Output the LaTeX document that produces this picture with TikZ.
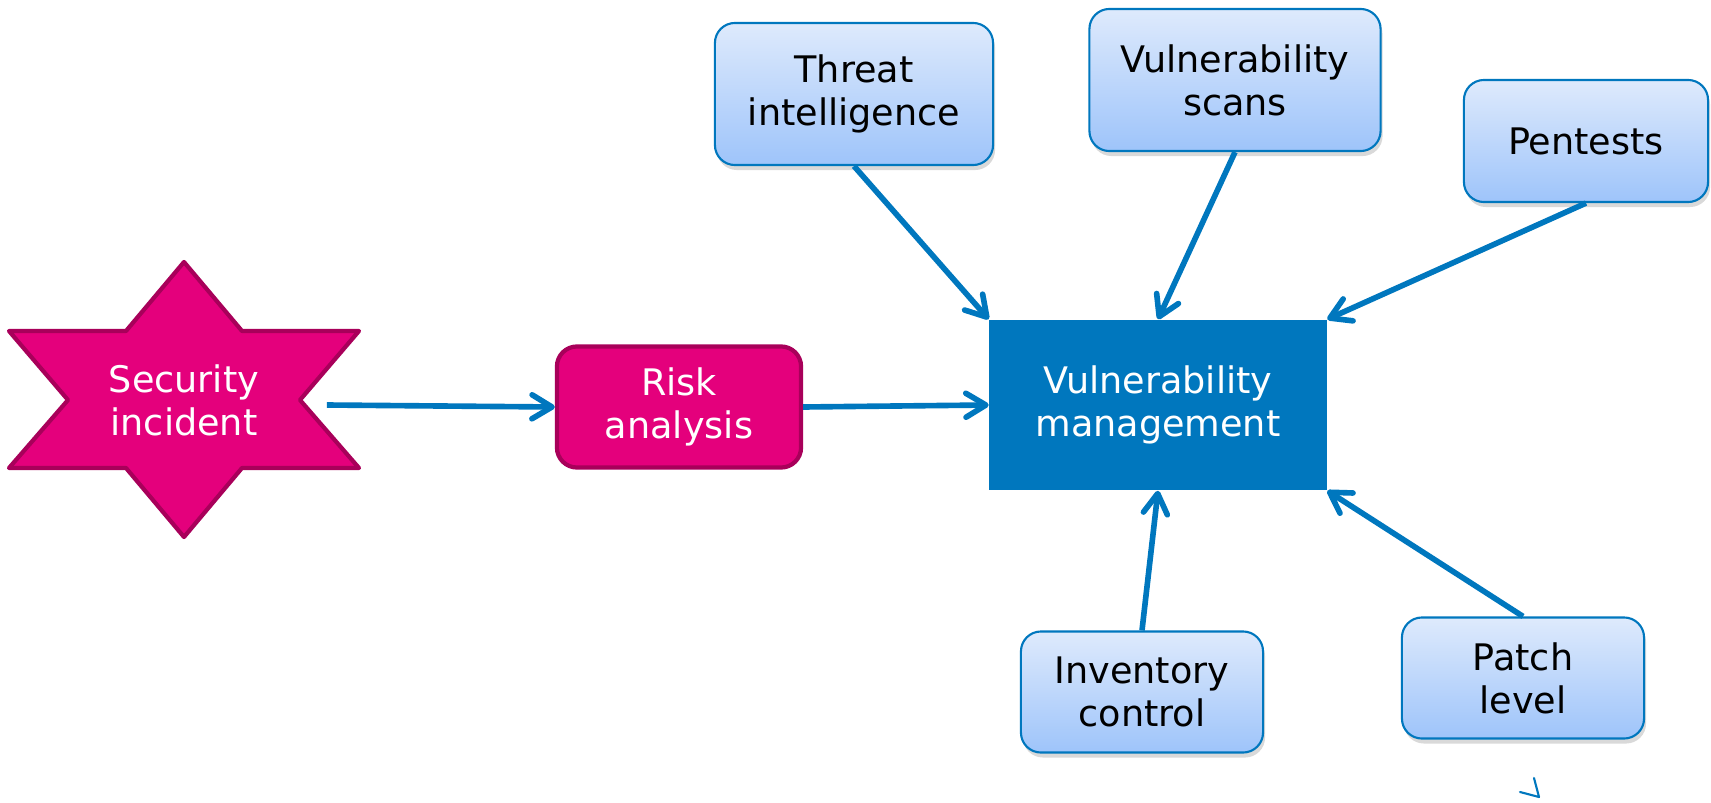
\documentclass[tikz,border=0pt]{standalone}
\usepackage{fontspec}
\setmainfont{DejaVu Sans}
\usetikzlibrary{arrows.meta,shadows}

\definecolor{vmblue}{RGB}{0,119,190}
\definecolor{hotpink}{RGB}{228,0,124}
\definecolor{darkpink}{RGB}{168,0,90}
\definecolor{paleblue}{RGB}{222,234,252}
\definecolor{skyblue}{RGB}{158,196,250}

\tikzset{
    boxfont/.style={font=\fontsize{10.4}{12.3}\selectfont, align=center},
    feed/.style={boxfont, draw=vmblue, line width=0.6pt, rounded corners=0.2cm,
        top color=paleblue, bottom color=skyblue, text=black,
        drop shadow={shadow xshift=0.02cm, shadow yshift=-0.05cm, opacity=0.3}},
    pinkbox/.style={boxfont, draw=darkpink, line width=1.2pt, rounded corners=0.2cm,
        fill=hotpink, text=white},
    vmbox/.style={boxfont, fill=vmblue, text=white},
    flow/.style={draw=vmblue, line width=1.6pt,
        -{Straight Barb[round, length=0.2cm, width=0.24cm]}}
}

\begin{document}
\begin{tikzpicture}[x=0.01cm, y=-0.01cm]
    \useasboundingbox (0,0) rectangle (1711,803);
    %the incident star, drawn round its centre
    \draw[shift={(184,400)}, fill=hotpink, draw=darkpink, line width=1.2pt, line join=round]
        (0,-138) -- (58,-69) -- (175,-69) -- (116,0) -- (175,68) -- (58,68) -- (0,137)
        -- (-58,68) -- (-175,68) -- (-116,0) -- (-175,-69) -- (-58,-69) -- cycle;
    \node[boxfont, text=white, minimum width=2.84cm] (incident) at (184,400) {Security\\incident};

    \node[pinkbox, minimum width=2.44cm, minimum height=1.21cm] (risk) at (679,407) {Risk\\analysis};
    \node[vmbox, minimum width=3.37cm, minimum height=1.70cm] (vm) at (1158,405) {Vulnerability\\management};

    %input boxes
    \node[feed, minimum width=2.78cm, minimum height=1.42cm] (threat) at (854,94) {Threat\\intelligence};
    \node[feed, minimum width=2.91cm, minimum height=1.42cm] (scans) at (1235,80) {Vulnerability\\scans};
    \node[feed, minimum width=2.44cm, minimum height=1.22cm] (pentests) at (1586,141) {Pentests};
    \node[feed, minimum width=2.42cm, minimum height=1.21cm] (inventory) at (1142,692) {Inventory\\control};
    \node[feed, minimum width=2.42cm, minimum height=1.21cm] (patch) at (1523,678) {Patch\\level};

    \draw[flow] ([yshift=-0.05cm]incident.east) -- (risk.west);
    \draw[flow] (risk.east) -- (vm.west);
    \draw[flow] (threat.south) -- (vm.north west);
    \draw[flow] (scans.south) -- (vm.north);
    \draw[flow] (pentests.south) -- (vm.north east);
    \draw[flow] (inventory.north) -- (vm.south);
    \draw[flow] (patch.north) -- (vm.south east);

    %stray tip
    \draw[vmblue, line width=0.6pt, line cap=round, line join=round] (1520,792) -- (1539,797) -- (1534,778);
\end{tikzpicture}
\end{document}
